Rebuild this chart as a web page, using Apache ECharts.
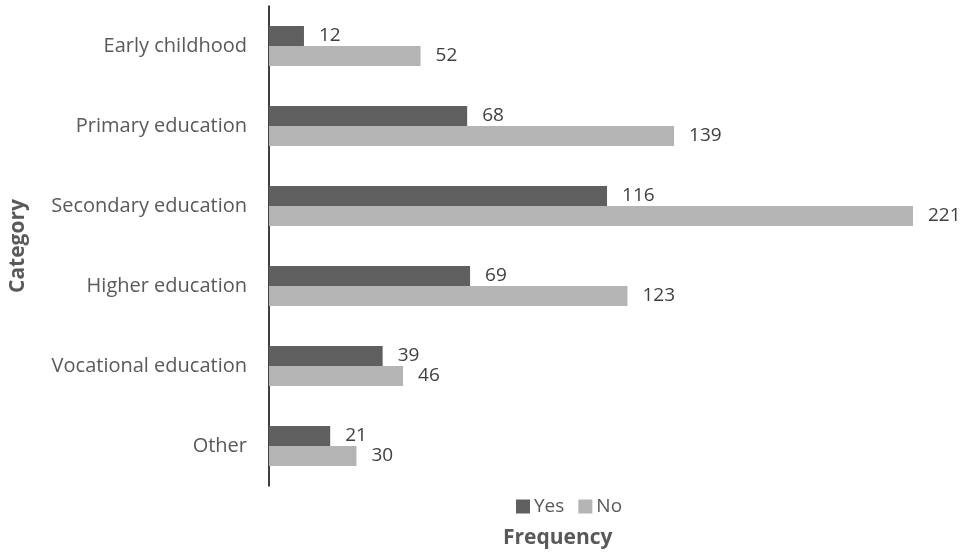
<!DOCTYPE html>
<html><head><meta charset="utf-8">
<script src="https://cdn.jsdelivr.net/npm/echarts@6/dist/echarts.min.js"></script>
<style>html,body{margin:0;padding:0;background:#fff}#c{width:967px;height:556px}</style>
</head><body><div id="c"></div>
<script>
const categories = ["Early childhood","Primary education","Secondary education","Higher education","Vocational education","Other"];
const yesValues = [12,68,116,69,39,21];
const noValues = [52,139,221,123,46,30];
const seriesNames = ["Yes","No"];
const FONT = "Open Sans";
const chart = echarts.init(document.getElementById('c'));
chart.setOption({
  animation:false,
  textStyle:{fontFamily:FONT},
  grid:{left:265,right:54,top:6,bottom:70},
  legend:{data:seriesNames,left:511,top:492,itemWidth:14,itemHeight:14,itemGap:14,icon:'rect',
    textStyle:{fontFamily:FONT,fontSize:19,color:'#595959',padding:[0,0,0,-1]}},
  xAxis:{type:'value',min:0,max:221,show:false},
  yAxis:{type:'category',data:categories,inverse:true,
    axisLine:{show:true,lineStyle:{color:'#000',width:1.5}},
    axisTick:{show:false},
    axisLabel:{margin:22,fontSize:20,color:'#595959',fontFamily:FONT},
    name:'Category',nameLocation:'middle',nameGap:240,
    nameTextStyle:{fontSize:21,fontWeight:'bold',color:'#595959',fontFamily:FONT}},
  graphic:[{type:'text',left:503,top:528,style:{text:'Frequency',fontSize:21,fontWeight:'bold',fill:'#595959',fontFamily:FONT}}],
  series:[
    {name:'Yes',type:'bar',data:yesValues,barGap:'0%',barCategoryGap:'50%',itemStyle:{color:'#5f5f5f'},
     label:{show:true,position:'right',distance:15,fontSize:19,color:'#404040',fontFamily:FONT}},
    {name:'No',type:'bar',data:noValues,itemStyle:{color:'#b4b4b4'},
     label:{show:true,position:'right',distance:15,fontSize:19,color:'#404040',fontFamily:FONT}}
  ]
});
</script></body></html>
